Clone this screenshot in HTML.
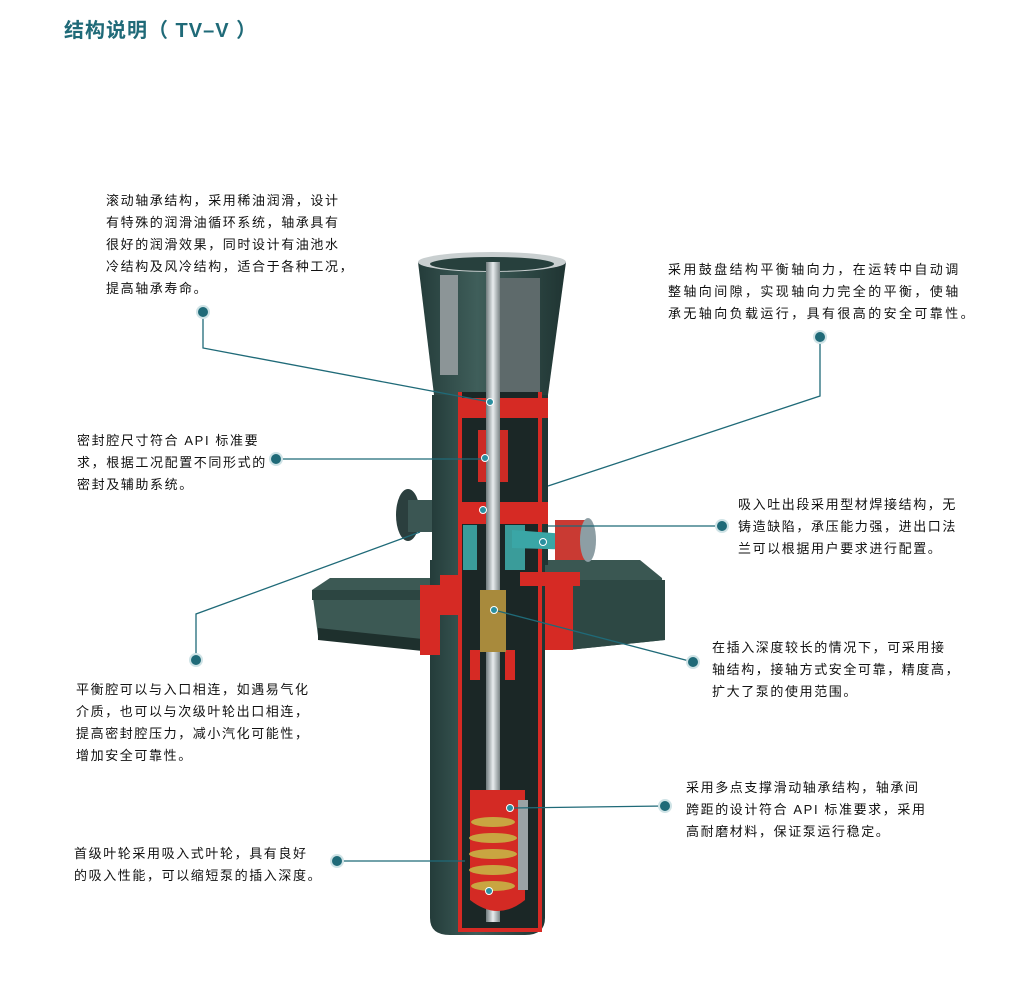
<!DOCTYPE html>
<html><head><meta charset="utf-8"><style>
html,body{margin:0;padding:0;background:#fff;}
body{width:1014px;height:1001px;position:relative;overflow:hidden;font-family:"Liberation Sans","Noto Sans CJK SC",sans-serif;}
.t{position:absolute;font-size:13px;line-height:22px;color:#111;letter-spacing:1.6px;white-space:nowrap;}
.title{position:absolute;left:64px;top:14px;font-size:20px;font-weight:bold;color:#1f6a78;letter-spacing:1px;}
svg{position:absolute;left:0;top:0;}
</style></head><body>
<svg width="1014" height="1001" viewBox="0 0 1014 1001">
<defs>
<linearGradient id="sh" x1="0" x2="1"><stop offset="0" stop-color="#6f7a7c"/><stop offset=".5" stop-color="#e8ecee"/><stop offset="1" stop-color="#7a8486"/></linearGradient>
<linearGradient id="bar" x1="0" x2="1"><stop offset="0" stop-color="#243c3a"/><stop offset=".4" stop-color="#3f5e5a"/><stop offset="1" stop-color="#1f3432"/></linearGradient>
</defs>
<polygon points="312,590 330,578 432,578 432,650 318,636" fill="#3c5954"/>
<polygon points="312,590 432,590 432,600 312,600" fill="#2c4541"/>
<polygon points="318,628 432,640 432,652 318,640" fill="#1e302d"/>
<polygon points="545,560 640,560 662,578 665,640 568,650 545,640" fill="#3a5752"/>
<polygon points="568,580 665,580 665,640 568,650" fill="#2d4844"/>
<ellipse cx="408" cy="515" rx="12" ry="26" fill="#2b3f3e"/>
<rect x="408" y="500" width="28" height="32" fill="#3b5653"/>
<polygon points="418,262 566,262 548,395 434,395" fill="url(#bar)"/>
<ellipse cx="492" cy="262" rx="74" ry="10" fill="#c9cfd0"/>
<ellipse cx="492" cy="264" rx="62" ry="7" fill="#27403d"/>
<rect x="440" y="275" width="18" height="100" fill="#8c9597"/>
<rect x="500" y="278" width="40" height="120" fill="#5e6a6b"/>
<rect x="432" y="395" width="116" height="170" fill="url(#bar)"/>
<path d="M430,560 H545 V918 Q545,935 525,935 H450 Q430,935 430,918 Z" fill="url(#bar)"/>
<rect x="460" y="392" width="80" height="540" fill="#1b2726"/>
<path d="M460,392 V932 M540,392 V932" stroke="#d62a24" stroke-width="4"/>
<path d="M458,930 H542" stroke="#d62a24" stroke-width="4"/>
<rect x="458" y="398" width="90" height="20" fill="#d62a24"/>
<rect x="478" y="430" width="30" height="52" fill="#cc2b25"/>
<rect x="458" y="502" width="90" height="22" fill="#d62a24"/>
<rect x="440" y="575" width="22" height="40" fill="#d62a24"/>
<rect x="520" y="572" width="60" height="14" fill="#d62a24"/>
<rect x="420" y="585" width="20" height="70" fill="#d62a24"/>
<rect x="545" y="585" width="28" height="65" fill="#d62a24"/>
<rect x="470" y="650" width="10" height="30" fill="#d62a24"/>
<rect x="505" y="650" width="10" height="30" fill="#d62a24"/>
<rect x="463" y="525" width="14" height="45" fill="#3a9c9a"/>
<rect x="505" y="525" width="20" height="45" fill="#3a9c9a"/>
<polygon points="512,530 580,535 580,550 512,548" fill="#3aa6a6"/>
<rect x="555" y="520" width="30" height="40" fill="#c93a33"/>
<ellipse cx="588" cy="540" rx="8" ry="22" fill="#8d9ea4"/>
<rect x="486" y="262" width="14" height="660" fill="url(#sh)"/>
<rect x="480" y="590" width="26" height="62" fill="#a88a3c"/>
<path d="M470,790 H525 V900 Q498,922 470,900 Z" fill="#d42a24"/>
<g fill="#c9a541">
<ellipse cx="493" cy="822" rx="22" ry="5"/><ellipse cx="493" cy="838" rx="24" ry="5"/>
<ellipse cx="493" cy="854" rx="24" ry="5"/><ellipse cx="493" cy="870" rx="24" ry="5"/>
<ellipse cx="493" cy="886" rx="22" ry="5"/></g>
<rect x="518" y="800" width="10" height="90" fill="#9aa3a5"/>
<g stroke="#1f6a78" stroke-width="1.3" fill="none">
<polyline points="203,312 203,348 490,402"/>
<polyline points="820,337 820,396 548,486"/>
<polyline points="276,459 487,459"/>
<polyline points="722,526 548,526"/>
<polyline points="196,660 196,614 420,532"/>
<polyline points="693,662 494,610"/>
<polyline points="665,806 512,808"/>
<polyline points="337,861 465,861"/>
</g>
<g fill="#1f6a78" stroke="#cfe3e6" stroke-width="2">
<circle cx="203" cy="312" r="6"/><circle cx="820" cy="337" r="6"/>
<circle cx="276" cy="459" r="6"/><circle cx="722" cy="526" r="6"/>
<circle cx="196" cy="660" r="6"/><circle cx="693" cy="662" r="6"/>
<circle cx="665" cy="806" r="6"/><circle cx="337" cy="861" r="6"/>
</g>
<g fill="#2a8fa0" stroke="#fff" stroke-width="1">
<circle cx="490" cy="402" r="3.5"/><circle cx="485" cy="458" r="3.5"/><circle cx="483" cy="510" r="3.5"/>
<circle cx="543" cy="542" r="3.5"/><circle cx="494" cy="610" r="3.5"/><circle cx="510" cy="808" r="3.5"/>
<circle cx="489" cy="891" r="3.5"/>
</g>
</svg>
<div class="title">结构说明（ TV–V ）</div>
<div class="t" style="left:106px;top:190px;">滚动轴承结构，采用稀油润滑，设计<br>有特殊的润滑油循环系统，轴承具有<br>很好的润滑效果，同时设计有油池水<br>冷结构及风冷结构，适合于各种工况，<br>提高轴承寿命。</div>
<div class="t" style="left:668px;top:259px;letter-spacing:2.4px;">采用鼓盘结构平衡轴向力，在运转中自动调<br>整轴向间隙，实现轴向力完全的平衡，使轴<br>承无轴向负载运行，具有很高的安全可靠性。</div>
<div class="t" style="left:77px;top:430px;">密封腔尺寸符合 API 标准要<br>求，根据工况配置不同形式的<br>密封及辅助系统。</div>
<div class="t" style="left:738px;top:494px;">吸入吐出段采用型材焊接结构，无<br>铸造缺陷，承压能力强，进出口法<br>兰可以根据用户要求进行配置。</div>
<div class="t" style="left:712px;top:637px;">在插入深度较长的情况下，可采用接<br>轴结构，接轴方式安全可靠，精度高，<br>扩大了泵的使用范围。</div>
<div class="t" style="left:76px;top:679px;">平衡腔可以与入口相连，如遇易气化<br>介质，也可以与次级叶轮出口相连，<br>提高密封腔压力，减小汽化可能性，<br>增加安全可靠性。</div>
<div class="t" style="left:686px;top:777px;">采用多点支撑滑动轴承结构，轴承间<br>跨距的设计符合 API 标准要求，采用<br>高耐磨材料，保证泵运行稳定。</div>
<div class="t" style="left:74px;top:843px;">首级叶轮采用吸入式叶轮，具有良好<br>的吸入性能，可以缩短泵的插入深度。</div>
</body></html>
